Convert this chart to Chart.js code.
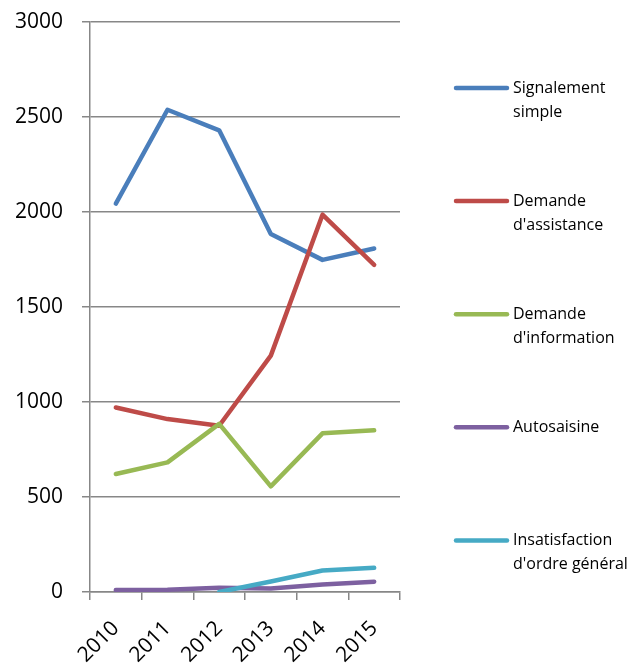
<!DOCTYPE html>
<html>
<head>
<meta charset="utf-8">
<script src="https://cdn.jsdelivr.net/npm/chart.js@4"></script>
<style>
  html, body { margin: 0; padding: 0; background: #ffffff; }
  #wrap { width: 642px; height: 666px; position: relative; }
</style>
</head>
<body>
<div id="wrap"><canvas id="chart"></canvas></div>
<script>
// Years on the category axis
const years = ['2010', '2011', '2012', '2013', '2014', '2015'];

// Series names
const seriesNames = [
  'Signalement simple',
  "Demande d'assistance",
  "Demande d'information",
  'Autosaisine',
  "Insatisfaction d'ordre général"
];

// Yearly counts per request type
const signalementSimple = [2044, 2538, 2430, 1884, 1748, 1808];
const demandeAssistance = [971, 910, 875, 1244, 1986, 1722];
const demandeInformation = [621, 682, 885, 556, 835, 851];
const autosaisine = [10, 12, 22, 18, 40, 54];
const insatisfaction = [null, null, 0, 55, 113, 127];

// Value axis ticks
const yMin = 0;
const yMax = 3000;
const yStep = 500;

const seriesColors = ['#4A7EBB', '#BE4B48', '#98B954', '#7D60A0', '#46AAC5'];
const seriesValues = [signalementSimple, demandeAssistance, demandeInformation, autosaisine, insatisfaction];

const FONT = "'Open Sans', 'DejaVu Sans', sans-serif";
const GRID = '#878787';

// Legend drawn on the right side, with wrapped multi-line labels
const sideLegend = {
  id: 'sideLegend',
  afterDraw(chart, args, opts) {
    const ctx = chart.ctx;
    ctx.save();
    ctx.font = opts.fontSize + 'px ' + FONT;
    ctx.textBaseline = 'middle';
    ctx.textAlign = 'left';
    chart.data.datasets.forEach((ds, i) => {
      const y = opts.top + i * opts.step;
      ctx.strokeStyle = ds.borderColor;
      ctx.lineWidth = ds.borderWidth;
      ctx.lineCap = 'round';
      ctx.beginPath();
      ctx.moveTo(opts.x, y);
      ctx.lineTo(opts.x + opts.sample, y);
      ctx.stroke();
      // word wrap
      const words = ds.label.split(' ');
      const lines = [];
      let cur = '';
      words.forEach(w => {
        const t = cur ? cur + ' ' + w : w;
        if (cur && ctx.measureText(t).width > opts.maxWidth) {
          lines.push(cur);
          cur = w;
        } else {
          cur = t;
        }
      });
      if (cur) lines.push(cur);
      ctx.fillStyle = '#000000';
      lines.forEach((t, k) => {
        ctx.fillText(t, opts.x + opts.sample + opts.gap, y + k * opts.lineHeight);
      });
    });
    ctx.restore();
  }
};

new Chart(document.getElementById('chart'), {
  type: 'line',
  data: {
    labels: years,
    datasets: seriesNames.map((name, i) => ({
      label: name,
      data: seriesValues[i],
      borderColor: seriesColors[i],
      backgroundColor: seriesColors[i],
      borderWidth: 4.5,
      borderCapStyle: 'round',
      borderJoinStyle: 'round',
      pointRadius: 0,
      pointHoverRadius: 0,
      tension: 0,
      fill: false,
      order: seriesNames.length - i
    }))
  },
  options: {
    responsive: true,
    maintainAspectRatio: false,
    animation: false,
    layout: { padding: { left: 0, right: 242, top: 22, bottom: 0 } },
    plugins: {
      legend: { display: false },
      tooltip: { enabled: false },
      sideLegend: {
        x: 456, top: 88, step: 113.1, sample: 51, gap: 6,
        lineHeight: 24, maxWidth: 125, fontSize: 16
      }
    },
    scales: {
      x: {
        offset: true,
        grid: {
          offset: true,
          drawOnChartArea: false,
          drawTicks: true,
          tickLength: 8,
          color: GRID,
          lineWidth: 1.5
        },
        border: { display: true, color: GRID, width: 1.5 },
        ticks: {
          color: '#000000',
          font: { family: FONT, size: 21 },
          minRotation: 45,
          maxRotation: 45,
          padding: 16,
          autoSkip: false
        },
        afterFit(scale) {
          scale.height = 74;
          scale.paddingLeft = 0;
          scale.paddingRight = 0;
        }
      },
      y: {
        min: yMin,
        max: yMax,
        grid: {
          color: GRID,
          lineWidth: 1.5,
          drawTicks: true,
          tickLength: 8
        },
        border: { display: true, color: GRID, width: 1.5 },
        ticks: {
          stepSize: yStep,
          color: '#000000',
          font: { family: FONT, size: 21 },
          padding: 19,
          callback: (v) => String(v)
        },
        afterFit(scale) {
          scale.width = 90;
          scale.paddingTop = 0;
          scale.paddingBottom = 0;
        }
      }
    }
  },
  plugins: [sideLegend]
});
</script>
</body>
</html>
